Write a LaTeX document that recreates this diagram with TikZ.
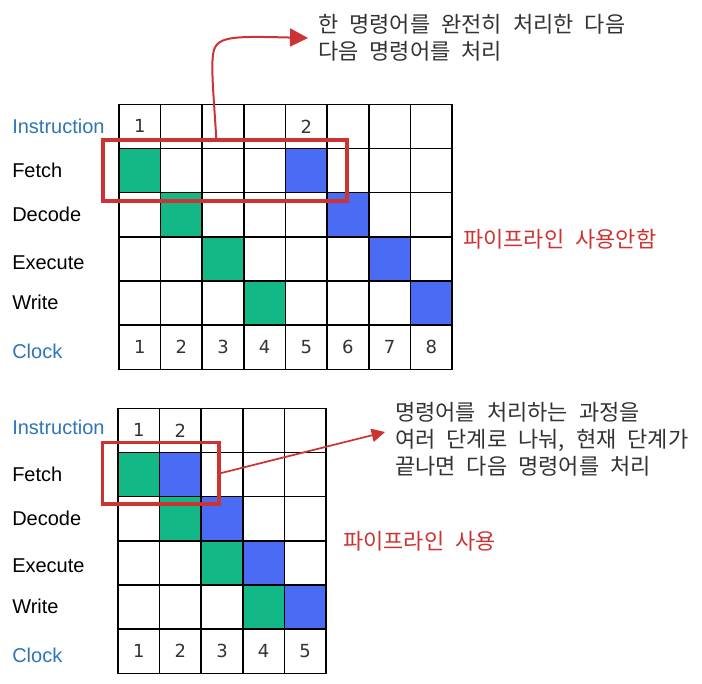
\documentclass[tikz,border=0pt]{standalone}
\usepackage{fontspec}
\setmainfont{Liberation Sans}
\newfontfamily\krfont{Noto Sans CJK KR}
\newfontfamily\numfont{DejaVu Sans}
\usetikzlibrary{arrows.meta,fit}
\definecolor{pipegreen}{HTML}{12B886}
\definecolor{pipeblue}{HTML}{4A6CF4}
\definecolor{pipered}{HTML}{CC3333}
\definecolor{pipelabel}{HTML}{2E75B6}
\definecolor{pipetext}{HTML}{333333}

\begin{document}
\begin{tikzpicture}[x=0.75pt,y=-0.75pt,
  cell/.style={draw,line width=1.2pt,minimum width=31.2pt,minimum height=33.1pt,
    inner sep=0pt,text=pipetext,font={\numfont\fontsize{13.5}{16}\selectfont}},
  stage/.style={anchor=base west,inner sep=0pt,text=black!90,font={\fontsize{15}{18}\selectfont}},
  redbox/.style={draw=pipered,line width=2.6pt,inner sep=0pt},
  note/.style={anchor=west,inner sep=0pt,align=left,text=pipetext,
    font={\krfont\fontsize{16.5}{20.25}\selectfont\spaceskip=0.5em\relax}},
  tag/.style={anchor=west,inner sep=0pt,text=pipered,
    font={\krfont\fontsize{16.5}{18}\selectfont\spaceskip=0.5em\relax}},
  call/.style={-{Triangle[length=10pt,width=10pt]},pipered,line width=1.3pt}]
  \useasboundingbox (0,0) rectangle (702,683);
  % top grid -- no pipeline, one instruction after the other
  \foreach \r in {1,...,4}
    \foreach \c in {1,...,8}
      \node[cell] (a-\r-\c) at ({119+41.63*(\c-0.5)},{104.3+44.18*(\r+0.5)}) {};
  \foreach \c/\t in {1/1,2/{},3/{},4/{},5/2,6/{},7/{},8/{}}
    \node[cell] (a-0-\c) at ({119+41.63*(\c-0.5)},{104.3+44.18*0.5}) {\t};
  \foreach \c in {1,...,8}
    \node[cell] (a-5-\c) at ({119+41.63*(\c-0.5)},{104.3+44.18*5.5}) {\c};
  \foreach \r/\b in {1/5,2/6,3/7,4/8}{
    \node[cell,fill=pipegreen] (ga-\r) at (a-\r-\r) {};
    \node[cell,fill=pipeblue] (ba-\r) at (a-\r-\b) {};}
  \foreach \y/\name/\txt/\col in {133/ins/Instruction/pipelabel, 177/fet/Fetch/black,
                                  221/dec/Decode/black, 269/exe/Execute/black,
                                  309/wri/Write/black, 358/clk/Clock/pipelabel}
    \node[stage,text=\col] (la-\name) at (12,\y) {\txt};
  % bottom grid -- pipeline, stages overlap
  \foreach \r in {1,...,4}
    \foreach \c in {1,...,5}
      \node[cell] (b-\r-\c) at ({118+41.6*(\c-0.5)},{408.3+44.17*(\r+0.5)}) {};
  \foreach \c/\t in {1/1,2/2,3/{},4/{},5/{}}
    \node[cell] (b-0-\c) at ({118+41.6*(\c-0.5)},{408.3+44.17*0.5}) {\t};
  \foreach \c in {1,...,5}
    \node[cell] (b-5-\c) at ({118+41.6*(\c-0.5)},{408.3+44.17*5.5}) {\c};
  \foreach \r/\b in {1/2,2/3,3/4,4/5}{
    \node[cell,fill=pipegreen] (gb-\r) at (b-\r-\r) {};
    \node[cell,fill=pipeblue] (bb-\r) at (b-\r-\b) {};}
  \foreach \y/\name/\txt/\col in {434/ins/Instruction/pipelabel, 481/fet/Fetch/black,
                                  525/dec/Decode/black, 572/exe/Execute/black,
                                  613/wri/Write/black, 662/clk/Clock/pipelabel}
    \node[stage,text=\col] (lb-\name) at (12,\y) {\txt};
  % red marks and notes
  \node[redbox,fit={(103,140) (347,201)}] (nopipe) {};
  \node[redbox,fit={(102.3,442.3) (219,504)}] (pipe) {};
  \node[tag] (nopipetag) at (463,239) {파이프라인 사용안함};
  \node[tag] (pipetag) at (343,541) {파이프라인 사용};
  \node[note] (nopipetxt) at (318,38) {한 명령어를 완전히 처리한 다음\\다음 명령어를 처리};
  \node[note] (pipetxt) at (395,439) {명령어를 처리하는 과정을\\여러 단계로 나눠, 현재 단계가\\끝나면 다음 명령어를 처리};
  \draw[call,line width=1.5pt,-{Triangle[length=13.5pt,width=13.5pt]}]
    ([xshift=86.25pt]nopipe.north west) .. controls (214,100) and (211,70) .. (213,55)
    .. controls (215,36) and (230,36) .. ([xshift=-7.5pt]nopipetxt.west);
  \draw[call] (pipe.east) -- ([shift={(-7.5pt,5.25pt)}]pipetxt.west);
\end{tikzpicture}
\end{document}
